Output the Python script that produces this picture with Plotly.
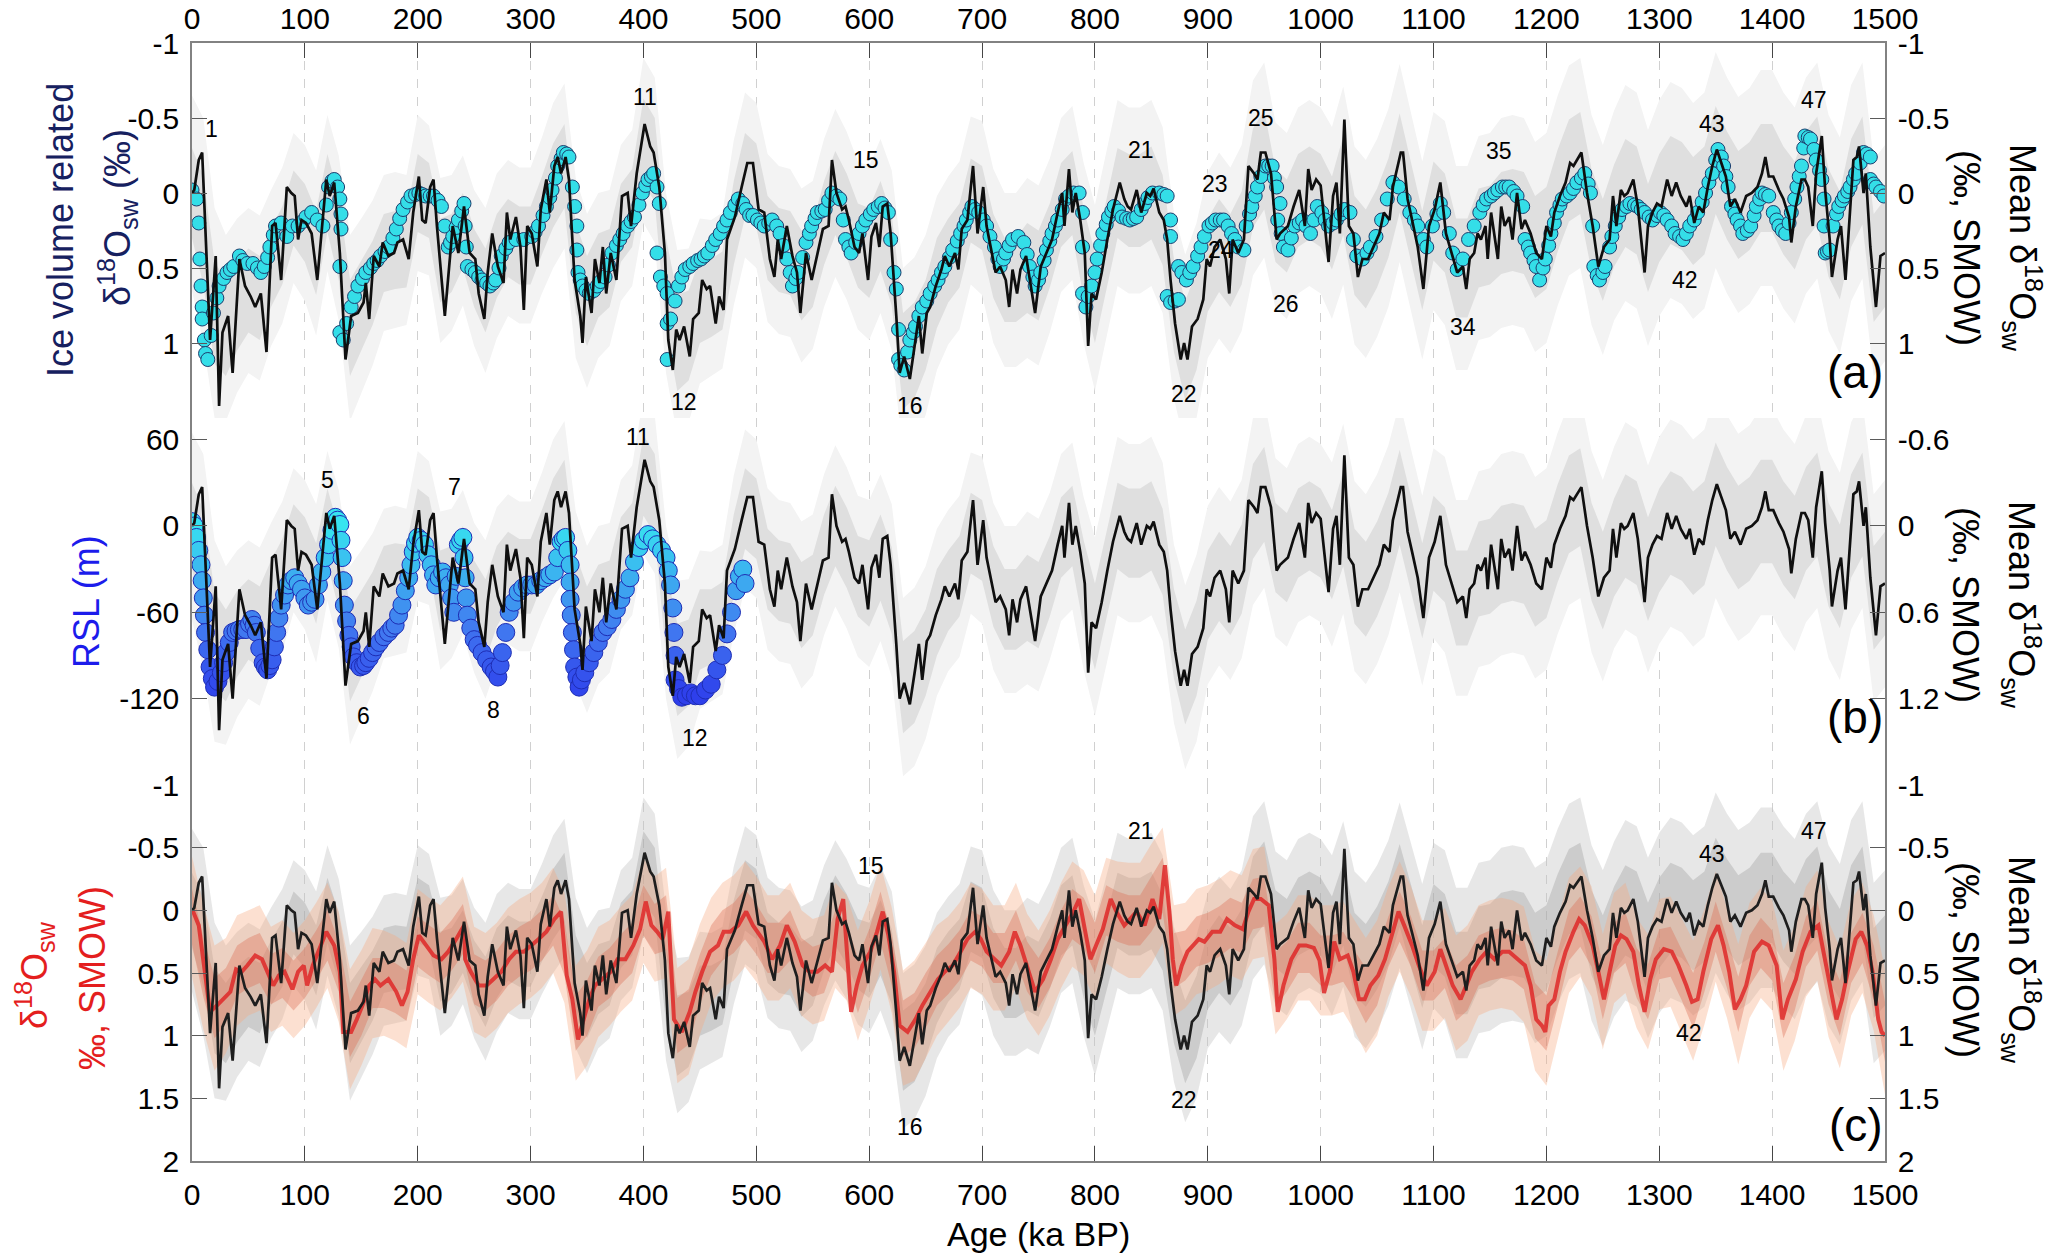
import plotly.graph_objects as go

# ---------------- data ----------------
# Mean d18Osw stack (permil, SMOW): (age ka BP, value)
mean_stack = [
    (0, 0.00), (2, -0.02), (6, -0.22), (9, -0.27), (16, 0.98), (21, 0.42), (24, 1.42), (27, 0.93),
    (32, 0.82), (36, 1.20), (42, 0.44), (47, 0.62), (52, 0.69), (56, 0.76), (61, 0.67), (66, 1.06),
    (71, 0.22), (74, 0.20), (79, 0.58), (84, -0.04), (88, 0.00), (91, 0.02), (94, 0.31), (97, 0.18),
    (101, 0.20), (106, 0.27), (111, 0.58), (116, 0.18), (119, -0.09), (122, 0.02), (126, -0.07),
    (131, 0.40), (136, 1.11), (141, 0.82), (147, 0.80), (152, 0.73), (154, 0.60), (157, 0.84),
    (161, 0.42), (166, 0.49), (169, 0.33), (174, 0.42), (179, 0.40), (182, 0.33), (187, 0.31),
    (192, 0.44), (196, 0.13), (201, -0.11), (204, 0.18), (207, 0.20), (211, -0.04), (214, -0.09),
    (217, 0.22), (224, 0.82), (227, 0.58), (231, 0.22), (236, 0.40), (241, 0.09), (246, 0.40),
    (251, 0.44), (254, 0.67), (259, 0.84), (262, 0.53), (266, 0.27), (271, 0.49), (276, 0.60),
    (279, 0.13), (282, 0.31), (287, 0.16), (291, 0.36), (294, 0.78), (297, 0.22), (301, 0.27),
    (306, 0.49), (309, 0.11), (314, -0.09), (317, 0.13), (321, -0.18), (324, -0.24), (327, -0.13),
    (331, -0.24), (334, -0.09), (339, 0.58), (344, 0.82), (346, 1.00), (349, 0.56), (354, 0.80),
    (357, 0.44), (361, 0.60), (364, 0.36), (367, 0.67), (371, 0.40), (376, 0.58), (381, 0.02),
    (386, 0.00), (389, 0.22), (394, -0.13), (397, -0.27), (401, -0.46), (406, -0.31), (409, -0.27),
    (414, -0.04), (419, 0.40), (422, 0.98), (426, 1.18), (429, 0.91), (432, 0.98), (436, 0.89),
    (441, 1.09), (444, 0.84), (449, 0.80), (452, 0.58), (456, 0.64), (459, 0.62), (464, 0.87),
    (467, 0.69), (471, 0.78), (474, 0.31), (481, 0.16), (487, -0.04), (492, -0.20), (497, -0.20),
    (502, 0.11), (507, 0.13), (512, 0.44), (516, 0.56), (519, 0.31), (522, 0.44), (527, 0.22),
    (532, 0.42), (536, 0.53), (539, 0.80), (544, 0.40), (549, 0.58), (554, 0.40), (559, 0.24),
    (564, 0.22), (567, -0.22), (571, 0.00), (576, 0.11), (579, 0.09), (582, 0.18), (587, 0.36),
    (591, 0.40), (594, 0.27), (599, 0.58), (602, 0.29), (606, 0.20), (609, 0.36), (612, 0.09),
    (616, 0.07), (619, 0.27), (624, 0.82), (627, 1.20), (631, 1.09), (636, 1.24), (641, 0.98),
    (644, 0.82), (647, 1.07), (651, 0.80), (654, 0.76), (659, 0.62), (664, 0.51), (667, 0.42),
    (671, 0.49), (676, 0.40), (679, 0.51), (682, 0.24), (687, 0.18), (692, -0.18), (696, 0.27),
    (701, -0.04), (704, 0.22), (709, 0.40), (712, 0.53), (716, 0.49), (721, 0.58), (724, 0.76),
    (727, 0.51), (731, 0.67), (734, 0.51), (739, 0.42), (742, 0.56), (747, 0.80), (752, 0.49),
    (757, 0.40), (762, 0.31), (767, 0.13), (771, 0.00), (773, 0.22), (777, -0.16), (780, 0.13),
    (783, 0.00), (787, 0.18), (791, 0.40), (794, 1.02), (797, 0.67), (801, 0.71), (806, 0.53),
    (811, 0.31), (816, 0.11), (822, -0.07), (826, 0.04), (829, 0.09), (832, 0.11), (837, -0.02),
    (841, 0.13), (846, 0.00), (849, 0.02), (852, -0.03), (857, 0.13), (861, 0.18), (864, 0.31),
    (867, 0.58), (871, 0.87), (876, 1.11), (879, 1.00), (882, 1.11), (886, 0.89), (891, 0.84),
    (896, 0.71), (899, 0.44), (902, 0.49), (906, 0.36), (911, 0.31), (916, 0.44), (919, 0.67),
    (922, 0.31), (927, 0.40), (932, 0.31), (936, -0.18), (941, -0.13), (944, -0.09), (947, -0.27),
    (951, -0.27), (956, -0.13), (961, 0.31), (964, 0.27), (971, 0.22), (976, 0.09), (981, -0.02),
    (986, 0.22), (989, -0.16), (992, -0.02), (996, -0.09), (1000, -0.05), (1003, 0.18), (1007, 0.46),
    (1011, 0.02), (1014, -0.07), (1017, 0.27), (1021, -0.49), (1025, 0.22), (1029, 0.27), (1033, 0.56),
    (1037, 0.44), (1042, 0.44), (1047, 0.36), (1052, 0.27), (1056, 0.13), (1061, 0.18), (1064, -0.04),
    (1068, -0.16), (1071, -0.27), (1073, -0.27), (1077, 0.04), (1081, 0.18), (1086, 0.36), (1091, 0.64),
    (1096, 0.22), (1101, 0.11), (1106, -0.07), (1111, 0.27), (1116, 0.40), (1121, 0.53), (1126, 0.49),
    (1129, 0.64), (1132, 0.44), (1136, 0.40), (1139, 0.27), (1142, 0.31), (1146, 0.22), (1148, 0.44),
    (1151, 0.13), (1154, 0.27), (1157, 0.44), (1160, 0.09), (1163, 0.22), (1167, 0.16), (1170, 0.31),
    (1174, 0.00), (1178, 0.24), (1181, 0.18), (1186, 0.27), (1191, 0.40), (1196, 0.44), (1200, 0.22),
    (1204, 0.29), (1207, 0.13), (1212, 0.02), (1217, -0.07), (1221, -0.20), (1224, -0.18), (1227, -0.22),
    (1231, -0.27), (1236, 0.00), (1241, 0.22), (1246, 0.49), (1251, 0.36), (1256, 0.31), (1259, 0.02),
    (1262, 0.22), (1266, -0.02), (1269, 0.02), (1272, 0.00), (1277, -0.09), (1281, 0.09), (1284, 0.31),
    (1287, 0.53), (1290, 0.22), (1294, 0.13), (1298, 0.07), (1302, 0.09), (1307, -0.09), (1311, 0.02),
    (1315, -0.07), (1319, 0.02), (1324, 0.09), (1327, 0.02), (1331, 0.20), (1335, 0.09), (1339, 0.13),
    (1343, -0.04), (1347, -0.18), (1351, -0.29), (1355, -0.20), (1359, -0.11), (1363, 0.09), (1367, 0.04),
    (1372, 0.13), (1377, 0.02), (1382, 0.00), (1387, -0.04), (1391, -0.13), (1394, -0.24), (1397, -0.11),
    (1401, -0.11), (1406, -0.02), (1410, 0.04), (1415, 0.16), (1417, 0.33), (1421, 0.09), (1426, -0.09),
    (1429, -0.09), (1432, -0.04), (1436, 0.22), (1439, -0.13), (1444, -0.38), (1447, -0.02), (1451, 0.31),
    (1453, 0.56), (1458, 0.31), (1461, 0.22), (1465, 0.58), (1469, 0.13), (1472, -0.22), (1475, -0.24),
    (1477, -0.31), (1481, 0.00), (1483, -0.13), (1487, 0.36), (1490, 0.58), (1492, 0.76), (1496, 0.42),
    (1500, 0.40),
]

# Ice-volume related d18Osw (circles, panel a)
ice_volume = [
    (0, -0.02), (4, 0.04), (6, 0.20), (7, 0.44), (8, 0.62), (9, 0.76), (9, 0.84), (11, 0.98), (12, 1.07),
    (14, 1.11), (17, 0.95), (19, 0.80), (22, 0.70), (24, 0.62), (28, 0.57), (31, 0.53), (34, 0.51),
    (37, 0.49), (42, 0.42), (45, 0.45), (49, 0.47), (54, 0.47), (58, 0.50), (61, 0.53), (64, 0.49),
    (67, 0.43), (69, 0.36), (72, 0.28), (74, 0.22), (79, 0.20), (84, 0.29), (89, 0.22), (94, 0.22),
    (98, 0.19), (101, 0.16), (106, 0.13), (111, 0.18), (116, 0.22), (119, 0.08), (121, -0.04),
    (124, -0.08), (126, -0.09), (129, -0.04), (131, 0.04), (132, 0.14), (132, 0.24), (131, 0.49),
    (131, 0.93), (134, 0.98), (137, 0.87), (141, 0.76), (144, 0.69), (147, 0.62), (151, 0.57),
    (154, 0.53), (158, 0.50), (161, 0.47), (164, 0.45), (167, 0.42), (171, 0.39), (174, 0.36),
    (178, 0.30), (181, 0.24), (184, 0.17), (187, 0.11), (191, 0.06), (194, 0.02), (198, 0.01),
    (201, 0.00), (204, 0.01), (207, 0.02), (211, 0.02), (214, 0.02), (218, 0.05), (221, 0.09),
    (224, 0.22), (227, 0.36), (229, 0.33), (231, 0.29), (234, 0.23), (236, 0.18), (239, 0.12),
    (241, 0.07), (242, 0.22), (243, 0.36), (244, 0.49), (248, 0.51), (251, 0.53), (254, 0.56),
    (257, 0.58), (261, 0.60), (264, 0.62), (267, 0.60), (269, 0.58), (272, 0.50), (274, 0.42),
    (278, 0.37), (281, 0.33), (287, 0.31), (294, 0.31), (301, 0.29), (304, 0.26), (307, 0.22),
    (311, 0.15), (314, 0.09), (317, 0.03), (319, -0.02), (322, -0.10), (324, -0.18), (327, -0.23),
    (329, -0.27), (332, -0.26), (334, -0.24), (337, -0.04), (339, 0.09), (341, 0.22), (341, 0.38),
    (342, 0.53), (344, 0.58), (346, 0.62), (349, 0.65), (352, 0.67), (356, 0.65), (359, 0.62),
    (362, 0.59), (366, 0.56), (369, 0.48), (372, 0.40), (376, 0.35), (379, 0.31), (382, 0.27),
    (386, 0.22), (389, 0.19), (392, 0.16), (396, 0.08), (399, 0.00), (402, -0.05), (404, -0.09),
    (407, -0.11), (409, -0.13), (412, -0.04), (414, 0.07), (412, 0.40), (415, 0.56), (418, 0.62),
    (421, 0.67), (421, 0.87), (421, 1.11), (424, 0.84), (428, 0.72), (431, 0.62), (434, 0.56),
    (437, 0.51), (441, 0.49), (444, 0.47), (448, 0.45), (451, 0.44), (454, 0.42), (457, 0.40),
    (461, 0.35), (464, 0.31), (468, 0.27), (471, 0.22), (474, 0.18), (477, 0.13), (481, 0.08),
    (484, 0.04), (488, 0.07), (491, 0.11), (494, 0.15), (497, 0.15), (501, 0.18), (504, 0.20),
    (507, 0.22), (511, 0.20), (514, 0.18), (518, 0.22), (521, 0.27), (524, 0.35), (527, 0.44),
    (530, 0.53), (532, 0.62), (535, 0.57), (537, 0.53), (541, 0.43), (544, 0.33), (547, 0.27),
    (549, 0.22), (552, 0.17), (554, 0.13), (558, 0.12), (561, 0.11), (564, 0.05), (567, 0.00),
    (571, 0.02), (574, 0.04), (577, 0.18), (579, 0.31), (582, 0.36), (584, 0.40), (588, 0.33),
    (591, 0.27), (594, 0.22), (597, 0.18), (601, 0.14), (604, 0.11), (608, 0.09), (611, 0.07),
    (614, 0.10), (617, 0.13), (619, 0.31), (622, 0.53), (624, 0.64), (626, 0.91), (626, 1.11),
    (628, 1.15), (631, 1.18), (634, 1.06), (636, 0.98), (639, 0.93), (641, 0.89), (644, 0.82),
    (647, 0.76), (651, 0.72), (654, 0.67), (658, 0.62), (661, 0.58), (664, 0.53), (667, 0.49),
    (671, 0.43), (674, 0.38), (678, 0.32), (681, 0.27), (684, 0.22), (686, 0.18), (689, 0.13),
    (691, 0.09), (694, 0.11), (697, 0.13), (701, 0.18), (704, 0.22), (707, 0.29), (711, 0.36),
    (714, 0.44), (716, 0.49), (719, 0.44), (721, 0.40), (724, 0.35), (727, 0.31), (732, 0.29),
    (737, 0.33), (740, 0.41), (742, 0.49), (745, 0.56), (747, 0.62), (750, 0.58), (752, 0.53),
    (755, 0.45), (757, 0.38), (760, 0.32), (762, 0.27), (765, 0.22), (767, 0.18), (771, 0.11),
    (774, 0.04), (777, 0.02), (781, 0.00), (786, 0.00), (789, 0.13), (789, 0.36), (789, 0.67),
    (792, 0.76), (794, 0.69), (797, 0.62), (800, 0.53), (802, 0.44), (805, 0.35), (807, 0.27),
    (810, 0.21), (812, 0.16), (815, 0.12), (817, 0.09), (821, 0.12), (824, 0.16), (828, 0.17),
    (831, 0.18), (834, 0.17), (837, 0.16), (841, 0.11), (844, 0.07), (847, 0.03), (851, 0.00),
    (857, 0.00), (861, 0.01), (864, 0.02), (867, 0.18), (867, 0.29), (864, 0.69), (867, 0.73),
    (871, 0.72), (874, 0.71), (874, 0.49), (877, 0.53), (881, 0.58), (884, 0.53), (887, 0.49),
    (891, 0.42), (894, 0.36), (897, 0.29), (901, 0.22), (904, 0.20), (907, 0.18), (911, 0.18),
    (914, 0.18), (918, 0.22), (921, 0.27), (924, 0.31), (927, 0.36), (932, 0.38), (934, 0.22),
    (937, 0.14), (939, 0.09), (942, 0.02), (944, -0.04), (947, -0.11), (951, -0.18), (954, -0.18),
    (957, -0.18), (959, -0.10), (961, -0.04), (964, 0.07), (962, 0.18), (965, 0.27), (967, 0.36),
    (971, 0.38), (974, 0.30), (977, 0.22), (981, 0.20), (984, 0.18), (987, 0.22), (991, 0.27),
    (994, 0.18), (997, 0.09), (1001, 0.13), (1004, 0.18), (1007, 0.22), (1011, 0.20), (1014, 0.18),
    (1018, 0.14), (1021, 0.11), (1026, 0.13), (1029, 0.31), (1032, 0.42), (1037, 0.44), (1041, 0.40),
    (1044, 0.36), (1049, 0.29), (1054, 0.18), (1059, 0.04), (1064, -0.07), (1069, -0.04), (1074, 0.04),
    (1079, 0.13), (1083, 0.18), (1086, 0.22), (1091, 0.31), (1094, 0.36), (1099, 0.22), (1103, 0.14),
    (1106, 0.07), (1109, 0.13), (1114, 0.27), (1117, 0.40), (1121, 0.51), (1126, 0.44), (1131, 0.31),
    (1136, 0.22), (1141, 0.13), (1144, 0.08), (1147, 0.04), (1151, 0.02), (1154, 0.00), (1157, -0.02),
    (1161, -0.04), (1164, -0.04), (1167, -0.04), (1171, -0.01), (1174, 0.02), (1179, 0.09), (1181, 0.31),
    (1184, 0.36), (1186, 0.40), (1189, 0.45), (1191, 0.49), (1194, 0.58), (1197, 0.50), (1199, 0.44),
    (1202, 0.35), (1204, 0.27), (1207, 0.20), (1209, 0.13), (1212, 0.08), (1214, 0.04), (1218, 0.02),
    (1221, 0.00), (1224, -0.03), (1227, -0.07), (1231, -0.10), (1234, -0.13), (1237, -0.06), (1239, 0.00),
    (1241, 0.22), (1242, 0.49), (1245, 0.55), (1247, 0.58), (1250, 0.53), (1252, 0.49), (1256, 0.36),
    (1258, 0.29), (1261, 0.22), (1264, 0.16), (1267, 0.11), (1271, 0.09), (1274, 0.07), (1278, 0.08),
    (1281, 0.09), (1284, 0.11), (1287, 0.13), (1291, 0.16), (1294, 0.18), (1298, 0.15), (1301, 0.13),
    (1304, 0.15), (1307, 0.18), (1311, 0.22), (1314, 0.27), (1318, 0.29), (1321, 0.31), (1324, 0.27),
    (1327, 0.22), (1331, 0.18), (1334, 0.13), (1338, 0.06), (1341, 0.00), (1344, -0.07), (1347, -0.13),
    (1350, -0.22), (1352, -0.29), (1355, -0.24), (1357, -0.18), (1359, -0.11), (1361, -0.04), (1364, 0.09),
    (1367, 0.14), (1369, 0.18), (1372, 0.22), (1374, 0.27), (1378, 0.25), (1381, 0.22), (1384, 0.15),
    (1386, 0.09), (1389, 0.04), (1391, 0.00), (1394, 0.01), (1397, 0.02), (1401, 0.13), (1404, 0.18),
    (1406, 0.22), (1409, 0.25), (1412, 0.27), (1415, 0.20), (1417, 0.13), (1420, 0.04), (1422, -0.04),
    (1424, -0.11), (1426, -0.18), (1428, -0.30), (1429, -0.38), (1432, -0.37), (1434, -0.36),
    (1437, -0.29), (1439, -0.22), (1442, -0.15), (1444, -0.09), (1446, 0.04), (1446, 0.22), (1447, 0.40),
    (1449, 0.39), (1451, 0.38), (1454, 0.22), (1457, 0.14), (1459, 0.09), (1462, 0.05), (1464, 0.02),
    (1467, -0.01), (1469, -0.04), (1472, -0.09), (1474, -0.13), (1478, -0.20), (1481, -0.27),
    (1484, -0.26), (1487, -0.24), (1487, -0.09), (1490, -0.06), (1492, -0.04), (1496, -0.01), (1499, 0.02),
]

# Relative sea level (m), panel b circles
rsl = [
    (0, 3), (2, 0), (4, -8), (6, -17), (8, -27), (9, -38), (10, -50), (11, -62), (12, -74), (14, -86),
    (16, -98), (18, -106), (20, -112), (23, -108), (26, -102), (28, -95), (30, -88), (33, -81), (36, -74),
    (39, -73), (42, -72), (45, -72), (48, -72), (51, -68), (53, -65), (55, -69), (57, -74), (60, -85),
    (63, -95), (65, -98), (67, -100), (69, -97), (71, -93), (73, -84), (75, -74), (77, -64), (79, -55),
    (82, -48), (85, -41), (88, -38), (91, -36), (94, -40), (97, -44), (100, -50), (103, -55), (106, -53),
    (109, -51), (112, -41), (115, -32), (118, -22), (121, -13), (124, -3), (127, 6), (129, 4), (131, 1),
    (132, -10), (133, -22), (134, -38), (135, -55), (137, -66), (139, -76), (141, -84), (143, -91),
    (146, -95), (149, -98), (152, -97), (154, -95), (157, -92), (160, -88), (163, -84), (166, -81),
    (170, -77), (174, -74), (177, -71), (180, -69), (183, -62), (186, -55), (189, -45), (192, -36),
    (194, -27), (196, -18), (198, -12), (200, -8), (203, -10), (206, -13), (209, -20), (212, -27),
    (214, -34), (216, -41), (219, -36), (222, -32), (225, -36), (228, -41), (230, -50), (232, -60),
    (234, -35), (236, -13), (238, -10), (240, -8), (241, -22), (242, -36), (243, -50), (244, -62),
    (247, -71), (250, -79), (253, -83), (257, -88), (261, -93), (265, -98), (268, -101), (271, -105),
    (273, -97), (275, -88), (278, -74), (281, -60), (285, -53), (289, -46), (293, -43), (297, -41),
    (301, -41), (305, -41), (309, -38), (313, -36), (317, -34), (321, -32), (324, -22), (327, -11),
    (329, -9), (331, -8), (333, -17), (335, -27), (335, -39), (335, -51), (336, -62), (337, -74),
    (338, -86), (339, -98), (341, -105), (343, -112), (345, -107), (348, -102), (352, -95), (356, -88),
    (360, -81), (364, -74), (368, -70), (372, -65), (376, -58), (380, -51), (384, -44), (388, -36),
    (392, -25), (396, -15), (400, -10), (404, -6), (408, -9), (412, -13), (416, -17), (420, -22),
    (422, -31), (424, -41), (426, -57), (427, -74), (428, -90), (428, -107), (431, -113), (434, -119),
    (438, -118), (442, -116), (446, -118), (450, -118), (455, -114), (460, -110), (465, -100),
    (470, -90), (474, -75), (478, -60), (482, -45), (485, -35), (488, -30), (490, -40),
]

# Red d18Osw reconstruction (panel c)
red_recon = [
    (0, 0.00), (1, 0.01), (6, 0.12), (11, 0.49), (16, 0.81), (22, 0.76), (27, 0.71), (34, 0.65),
    (39, 0.47), (44, 0.49), (49, 0.44), (56, 0.36), (62, 0.39), (67, 0.49), (72, 0.60), (77, 0.52),
    (82, 0.49), (89, 0.63), (94, 0.49), (99, 0.44), (102, 0.60), (107, 0.44), (114, 0.28), (119, 0.17),
    (126, 0.28), (131, 0.49), (134, 0.97), (141, 0.97), (146, 0.87), (151, 0.76), (157, 0.60),
    (162, 0.55), (167, 0.60), (174, 0.55), (181, 0.65), (186, 0.76), (191, 0.65), (196, 0.39),
    (201, 0.20), (207, 0.28), (214, 0.36), (221, 0.39), (227, 0.33), (234, 0.23), (241, 0.12),
    (242, 0.39), (247, 0.49), (254, 0.60), (261, 0.60), (267, 0.55), (274, 0.49), (281, 0.39),
    (287, 0.33), (294, 0.33), (301, 0.28), (307, 0.23), (314, 0.17), (321, 0.07), (327, 0.01),
    (332, 0.52), (337, 0.71), (342, 1.03), (347, 0.87), (352, 0.71), (357, 0.60), (364, 0.55),
    (371, 0.49), (377, 0.39), (384, 0.39), (391, 0.28), (397, 0.15), (402, -0.07), (407, 0.12),
    (412, 0.17), (417, 0.23), (422, 0.01), (426, 0.60), (427, 0.87), (434, 0.97), (441, 0.81),
    (446, 0.65), (452, 0.49), (459, 0.33), (466, 0.28), (471, 0.17), (477, 0.17), (484, 0.12),
    (491, 0.01), (497, 0.12), (501, 0.17), (507, 0.25), (514, 0.39), (521, 0.28), (527, 0.12),
    (534, 0.25), (541, 0.44), (547, 0.49), (554, 0.49), (561, 0.44), (567, 0.49), (572, 0.07),
    (577, -0.09), (581, 0.49), (584, 0.81), (589, 0.60), (594, 0.44), (601, 0.33), (607, 0.17),
    (612, 0.01), (617, 0.20), (622, 0.49), (627, 0.92), (634, 0.97), (641, 0.87), (647, 0.76),
    (654, 0.65), (661, 0.55), (667, 0.49), (674, 0.44), (681, 0.33), (687, 0.23), (694, 0.17),
    (699, 0.23), (704, 0.33), (711, 0.39), (717, 0.44), (724, 0.33), (729, 0.17), (734, 0.28),
    (741, 0.49), (747, 0.65), (754, 0.55), (761, 0.39), (767, 0.23), (774, 0.12), (781, 0.01),
    (786, -0.09), (791, 0.17), (796, 0.39), (801, 0.28), (807, 0.15), (814, -0.09), (819, 0.01),
    (826, 0.12), (831, 0.07), (837, 0.01), (844, 0.12), (851, -0.09), (857, 0.07), (862, -0.36),
    (866, 0.01), (869, 0.39), (872, 0.60), (877, 0.44), (882, 0.33), (887, 0.28), (892, 0.23),
    (897, 0.25), (904, 0.17), (911, 0.17), (917, 0.07), (924, 0.12), (931, 0.15), (936, 0.01),
    (941, -0.09), (947, -0.09), (954, -0.04), (959, 0.39), (962, 0.81), (967, 0.60), (974, 0.39),
    (981, 0.28), (987, 0.28), (994, 0.30), (999, 0.40), (1003, 0.66), (1008, 0.49), (1012, 0.25),
    (1017, 0.39), (1024, 0.36), (1029, 0.49), (1034, 0.71), (1039, 0.71), (1044, 0.60), (1051, 0.52),
    (1057, 0.39), (1064, 0.17), (1069, 0.01), (1074, 0.12), (1081, 0.28), (1087, 0.44), (1094, 0.60),
    (1101, 0.49), (1106, 0.31), (1111, 0.44), (1117, 0.60), (1124, 0.71), (1129, 0.60), (1134, 0.49),
    (1141, 0.39), (1147, 0.33), (1154, 0.39), (1161, 0.33), (1167, 0.33), (1174, 0.39), (1181, 0.44),
    (1186, 0.60), (1191, 0.87), (1196, 0.92), (1199, 0.97), (1202, 0.76), (1207, 0.71), (1212, 0.49),
    (1217, 0.33), (1224, 0.17), (1229, 0.07), (1234, 0.12), (1241, 0.28), (1246, 0.49), (1251, 0.71),
    (1256, 0.49), (1261, 0.28), (1266, 0.20), (1271, 0.23), (1277, 0.33), (1282, 0.60), (1287, 0.81),
    (1292, 0.55), (1297, 0.39), (1304, 0.31), (1311, 0.33), (1317, 0.44), (1324, 0.60), (1329, 0.73),
    (1334, 0.71), (1339, 0.49), (1346, 0.23), (1352, 0.12), (1357, 0.28), (1362, 0.49), (1367, 0.79),
    (1372, 0.71), (1377, 0.60), (1384, 0.33), (1391, 0.25), (1397, 0.28), (1404, 0.44), (1409, 0.87),
    (1414, 0.71), (1421, 0.55), (1427, 0.33), (1434, 0.17), (1441, 0.12), (1447, 0.39), (1452, 0.65),
    (1457, 0.87), (1462, 0.71), (1467, 0.49), (1474, 0.23), (1479, 0.17), (1484, 0.28), (1489, 0.49),
    (1494, 0.87), (1497, 0.97), (1500, 1.00),
]

# Uncertainty envelopes on a 10-ka grid
band_age = list(range(0, 1501, 10))
band_mid = [
    0.00, 0.25, 0.80, 0.90, 0.75, 0.65, 0.70, 0.50, 0.35, 0.10, 0.20,
    0.40, 0.00, 0.30, 0.90, 0.75, 0.60, 0.40, 0.38, 0.38, 0.00,
    0.05, 0.45, 0.40, 0.25, 0.50, 0.65, 0.42, 0.30, 0.35, 0.35,
    0.15, -0.05, -0.18, 0.50, 0.72, 0.55, 0.50, 0.20, 0.10, -0.35,
    -0.22, 0.60, 1.00, 0.95, 0.72, 0.70, 0.65, 0.20, -0.12, -0.05,
    0.30, 0.38, 0.40, 0.55, 0.48, 0.20, 0.00, 0.15, 0.35, 0.40,
    0.22, 0.45, 1.12, 1.05, 0.88, 0.60, 0.45, 0.35, 0.05, 0.10,
    0.42, 0.58, 0.58, 0.50, 0.55, 0.35, 0.08, 0.00, 0.40, 0.70,
    0.35, 0.00, 0.05, 0.05, 0.00, 0.18, 0.75, 1.05, 0.85, 0.48,
    0.35, 0.45, 0.30, -0.10, -0.22, 0.15, 0.22, 0.05, 0.00, 0.05,
    0.20, -0.05, 0.35, 0.44, 0.30, 0.10, -0.20, 0.12, 0.45, 0.12,
    0.20, 0.50, 0.50, 0.30, 0.28, 0.20, 0.18, 0.20, 0.36, 0.30,
    0.05, -0.15, -0.20, 0.18, 0.38, 0.15, 0.00, 0.05, 0.30, 0.10,
    -0.02, 0.02, 0.12, 0.05, -0.22, -0.05, 0.08, 0.02, -0.10, -0.10,
    0.05, 0.15, -0.05, -0.15, 0.20, 0.35, 0.00, -0.15, 0.50, 0.40,
]
band_inner = [
    0.30, 0.36, 0.34, 0.32, 0.30, 0.28, 0.28, 0.26, 0.26, 0.25, 0.26,
    0.28, 0.26, 0.28, 0.32, 0.30, 0.28, 0.26, 0.26, 0.25, 0.26,
    0.25, 0.28, 0.26, 0.25, 0.26, 0.28, 0.28, 0.26, 0.26, 0.26,
    0.26, 0.28, 0.28, 0.30, 0.30, 0.28, 0.26, 0.26, 0.26, 0.28,
    0.28, 0.30, 0.32, 0.30, 0.28, 0.26, 0.26, 0.28, 0.28, 0.28,
    0.28, 0.28, 0.28, 0.30, 0.28, 0.28, 0.28, 0.28, 0.28, 0.30,
    0.30, 0.30, 0.32, 0.32, 0.30, 0.30, 0.28, 0.28, 0.28, 0.28,
    0.28, 0.28, 0.28, 0.30, 0.30, 0.28, 0.28, 0.28, 0.30, 0.30,
    0.30, 0.30, 0.31, 0.31, 0.31, 0.30, 0.31, 0.33, 0.33, 0.31,
    0.31, 0.31, 0.31, 0.33, 0.33, 0.31, 0.31, 0.31, 0.31, 0.31,
    0.31, 0.33, 0.33, 0.33, 0.33, 0.33, 0.33, 0.33, 0.33, 0.33,
    0.33, 0.33, 0.33, 0.33, 0.33, 0.34, 0.34, 0.34, 0.34, 0.34,
    0.34, 0.34, 0.34, 0.34, 0.34, 0.34, 0.36, 0.36, 0.36, 0.36,
    0.36, 0.36, 0.36, 0.36, 0.36, 0.36, 0.36, 0.36, 0.36, 0.36,
    0.36, 0.36, 0.36, 0.36, 0.36, 0.36, 0.36, 0.36, 0.36, 0.36,
]
band_outer = [
    0.65, 0.75, 0.70, 0.62, 0.58, 0.55, 0.55, 0.52, 0.52, 0.50, 0.52,
    0.55, 0.52, 0.55, 0.62, 0.58, 0.55, 0.52, 0.52, 0.50, 0.52,
    0.50, 0.55, 0.52, 0.50, 0.52, 0.55, 0.55, 0.52, 0.52, 0.52,
    0.52, 0.55, 0.55, 0.60, 0.58, 0.55, 0.52, 0.52, 0.52, 0.55,
    0.55, 0.60, 0.62, 0.58, 0.55, 0.52, 0.52, 0.55, 0.55, 0.55,
    0.56, 0.56, 0.56, 0.58, 0.56, 0.56, 0.56, 0.56, 0.56, 0.58,
    0.58, 0.60, 0.62, 0.62, 0.60, 0.58, 0.56, 0.56, 0.56, 0.58,
    0.58, 0.58, 0.58, 0.60, 0.60, 0.58, 0.58, 0.58, 0.60, 0.62,
    0.62, 0.62, 0.62, 0.62, 0.62, 0.62, 0.62, 0.64, 0.65, 0.62,
    0.62, 0.62, 0.62, 0.65, 0.65, 0.62, 0.62, 0.62, 0.62, 0.62,
    0.64, 0.66, 0.66, 0.66, 0.66, 0.66, 0.66, 0.66, 0.66, 0.66,
    0.68, 0.68, 0.68, 0.68, 0.68, 0.70, 0.70, 0.70, 0.70, 0.70,
    0.70, 0.70, 0.70, 0.70, 0.70, 0.70, 0.72, 0.72, 0.72, 0.72,
    0.72, 0.72, 0.72, 0.72, 0.72, 0.72, 0.72, 0.72, 0.72, 0.72,
    0.72, 0.72, 0.72, 0.72, 0.72, 0.72, 0.72, 0.72, 0.72, 0.72,
]
red_band_mid = [
    0.05, 0.45, 0.78, 0.68, 0.48, 0.42, 0.38, 0.55, 0.50, 0.60, 0.50,
    0.36, 0.20, 0.45, 0.95, 0.78, 0.58, 0.58, 0.62, 0.68, 0.25,
    0.32, 0.38, 0.28, 0.15, 0.55, 0.60, 0.52, 0.40, 0.33, 0.28,
    0.20, 0.08, 0.30, 0.90, 0.78, 0.57, 0.50, 0.39, 0.30, 0.00,
    0.15, 0.10, 0.92, 0.85, 0.55, 0.32, 0.20, 0.14, 0.03, 0.15,
    0.30, 0.30, 0.20, 0.42, 0.49, 0.46, 0.20, 0.30, 0.60, 0.35,
    0.05, 0.40, 0.94, 0.88, 0.72, 0.56, 0.47, 0.36, 0.20, 0.25,
    0.38, 0.38, 0.20, 0.45, 0.58, 0.42, 0.20, 0.03, 0.10, 0.30,
    0.00, 0.05, 0.08, 0.08, -0.05, -0.20, 0.40, 0.36, 0.25, 0.22,
    0.17, 0.10, 0.14, -0.05, -0.07, 0.55, 0.45, 0.30, 0.30, 0.40,
    0.40, 0.37, 0.52, 0.68, 0.54, 0.25, 0.05, 0.25, 0.52, 0.52,
    0.42, 0.66, 0.58, 0.40, 0.36, 0.34, 0.36, 0.43, 0.80, 0.90,
    0.55, 0.20, 0.09, 0.25, 0.65, 0.30, 0.22, 0.50, 0.65, 0.35,
    0.33, 0.52, 0.72, 0.45, 0.13, 0.42, 0.75, 0.40, 0.26, 0.36,
    0.80, 0.58, 0.25, 0.12, 0.55, 0.78, 0.38, 0.22, 0.50, 0.97,
]
red_inner = [
    0.22, 0.24, 0.24, 0.22, 0.20, 0.20, 0.20, 0.20, 0.20, 0.20, 0.20,
    0.20, 0.20, 0.20, 0.22, 0.22, 0.20, 0.20, 0.20, 0.20, 0.20,
    0.20, 0.20, 0.20, 0.20, 0.20, 0.20, 0.20, 0.20, 0.20, 0.20,
    0.20, 0.20, 0.22, 0.22, 0.22, 0.20, 0.20, 0.20, 0.20, 0.20,
    0.20, 0.22, 0.22, 0.22, 0.20, 0.20, 0.20, 0.20, 0.20, 0.20,
    0.20, 0.20, 0.20, 0.20, 0.20, 0.20, 0.20, 0.20, 0.22, 0.20,
    0.20, 0.20, 0.22, 0.22, 0.22, 0.20, 0.20, 0.20, 0.20, 0.20,
    0.20, 0.20, 0.20, 0.20, 0.20, 0.20, 0.20, 0.20, 0.20, 0.20,
    0.20, 0.20, 0.20, 0.20, 0.22, 0.22, 0.22, 0.20, 0.20, 0.20,
    0.20, 0.20, 0.20, 0.20, 0.20, 0.22, 0.20, 0.20, 0.20, 0.20,
    0.20, 0.20, 0.20, 0.22, 0.22, 0.20, 0.20, 0.20, 0.20, 0.20,
    0.20, 0.22, 0.22, 0.20, 0.20, 0.20, 0.20, 0.20, 0.22, 0.22,
    0.22, 0.20, 0.20, 0.20, 0.22, 0.20, 0.20, 0.20, 0.22, 0.20,
    0.20, 0.20, 0.22, 0.20, 0.20, 0.20, 0.22, 0.20, 0.20, 0.20,
    0.22, 0.22, 0.20, 0.20, 0.20, 0.22, 0.20, 0.20, 0.22, 0.24,
]
red_outer = [
    0.48, 0.50, 0.50, 0.46, 0.44, 0.42, 0.42, 0.42, 0.42, 0.42, 0.42,
    0.42, 0.42, 0.44, 0.48, 0.46, 0.44, 0.42, 0.42, 0.42, 0.42,
    0.42, 0.42, 0.42, 0.42, 0.42, 0.42, 0.42, 0.42, 0.42, 0.42,
    0.42, 0.42, 0.44, 0.46, 0.46, 0.44, 0.42, 0.42, 0.42, 0.42,
    0.42, 0.44, 0.46, 0.46, 0.44, 0.42, 0.42, 0.42, 0.42, 0.42,
    0.42, 0.42, 0.42, 0.42, 0.42, 0.42, 0.42, 0.42, 0.44, 0.42,
    0.42, 0.42, 0.46, 0.48, 0.46, 0.44, 0.42, 0.42, 0.42, 0.42,
    0.42, 0.42, 0.42, 0.42, 0.42, 0.42, 0.42, 0.42, 0.42, 0.42,
    0.42, 0.44, 0.46, 0.46, 0.48, 0.46, 0.44, 0.42, 0.42, 0.42,
    0.42, 0.42, 0.42, 0.44, 0.44, 0.44, 0.42, 0.42, 0.42, 0.44,
    0.44, 0.44, 0.44, 0.46, 0.46, 0.44, 0.44, 0.44, 0.44, 0.44,
    0.44, 0.46, 0.46, 0.44, 0.44, 0.44, 0.44, 0.46, 0.48, 0.50,
    0.48, 0.46, 0.44, 0.44, 0.46, 0.44, 0.44, 0.44, 0.46, 0.44,
    0.44, 0.46, 0.48, 0.46, 0.44, 0.44, 0.48, 0.46, 0.44, 0.44,
    0.48, 0.46, 0.44, 0.44, 0.46, 0.48, 0.46, 0.44, 0.46, 0.50,
]

x_ticks = [0, 100, 200, 300, 400, 500, 600, 700, 800, 900, 1000, 1100, 1200, 1300, 1400, 1500]
a_ticks = [-1, -0.5, 0, 0.5, 1]
a_minor_ticks = [1.5]
b_rsl_ticks = [60, 0, -60, -120]
b_d18o_ticks = [-0.6, 0, 0.6, 1.2]
c_ticks = [-1, -0.5, 0, 0.5, 1, 1.5, 2]

# MIS labels: (text, age, value in that panel's units)
labels_a = [("1", 17, -0.43), ("2", 32, 1.56), ("11", 401, -0.64), ("12", 436, 1.39),
            ("15", 597, -0.22), ("16", 636, 1.42), ("21", 841, -0.29), ("22", 879, 1.34),
            ("23", 906, -0.06), ("24", 912, 0.38), ("25", 947, -0.50), ("26", 969, 0.74),
            ("34", 1126, 0.89), ("35", 1158, -0.28), ("42", 1323, 0.58), ("43", 1347, -0.46),
            ("47", 1437, -0.62)]
labels_b = [("5", 120, 32), ("6", 152, -132), ("7", 233, 27), ("8", 267, -128),
            ("11", 395, 62), ("12", 446, -147)]
labels_c = [("15", 602, -0.35), ("16", 636, 1.73), ("21", 841, -0.63), ("22", 879, 1.51),
            ("42", 1326, 0.98), ("43", 1347, -0.45), ("47", 1437, -0.63)]

# ---------------- figure ----------------
W, H = 2067, 1260
FONT = "Liberation Sans, Arial, Helvetica, sans-serif"
XD = [192 / W, 1885 / W]
YA = [1 - 418 / H, 1 - 43 / H]
YB = [1 - 785 / H, 1 - 418 / H]
YC = [1 - 1161 / H, 1 - 785 / H]

mean_age = [a for a, _ in mean_stack]
mean_val = [v for _, v in mean_stack]
ice_age = [a for a, _ in ice_volume]
ice_val = [v for _, v in ice_volume]
rsl_age = [a for a, _ in rsl]
rsl_val = [v for _, v in rsl]
red_age = [a for a, _ in red_recon]
red_val = [v for _, v in red_recon]

fig = go.Figure()


def add_band(mid, half, color, xa, ya):
    lower = [m + h for m, h in zip(mid, half)]
    upper = [m - h for m, h in zip(mid, half)]
    fig.add_trace(go.Scatter(
        x=band_age + band_age[::-1], y=upper + lower[::-1], fill="toself", fillcolor=color,
        mode="lines", line=dict(width=0), hoverinfo="skip", showlegend=False, xaxis=xa, yaxis=ya))


def add_mean(xa, ya, color="rgb(15,15,15)"):
    fig.add_trace(go.Scatter(
        x=mean_age, y=mean_val, mode="lines", line=dict(color=color, width=2.7),
        hoverinfo="skip", showlegend=False, xaxis=xa, yaxis=ya))


# panel (a)
add_band(band_mid, band_outer, "rgb(243,243,243)", "x", "y")
add_band(band_mid, band_inner, "rgb(223,223,223)", "x", "y")
fig.add_trace(go.Scatter(
    x=ice_age, y=ice_val, mode="markers",
    marker=dict(size=14, color="rgb(52,222,232)", line=dict(color="rgb(28,62,110)", width=1)),
    hoverinfo="skip", showlegend=False, xaxis="x", yaxis="y"))
add_mean("x", "y2")

# panel (b)
add_band(band_mid, band_outer, "rgb(243,243,243)", "x2", "y3")
add_band(band_mid, band_inner, "rgb(223,223,223)", "x2", "y3")
fig.add_trace(go.Scatter(
    x=rsl_age, y=rsl_val, mode="markers",
    marker=dict(size=18, color=rsl_val, cmin=-120, cmax=0,
                colorscale=[[0, "rgb(45,60,235)"], [0.4, "rgb(65,120,240)"], [1, "rgb(55,228,240)"]],
                line=dict(color="rgb(30,45,180)", width=1)),
    hoverinfo="skip", showlegend=False, xaxis="x2", yaxis="y4"))
add_mean("x2", "y5")

# panel (c)
add_band(band_mid, band_outer, "rgba(195,195,195,0.40)", "x3", "y6")
add_band(band_mid, band_inner, "rgba(150,150,150,0.33)", "x3", "y6")
add_band(red_band_mid, red_outer, "rgba(246,168,128,0.36)", "x3", "y6")
add_band(red_band_mid, red_inner, "rgba(220,105,80,0.36)", "x3", "y6")
fig.add_trace(go.Scatter(
    x=red_age, y=red_val, mode="lines", line=dict(color="rgba(222,40,40,0.85)", width=4),
    hoverinfo="skip", showlegend=False, xaxis="x3", yaxis="y6"))
add_mean("x3", "y7", color="rgb(30,30,30)")

LINE = "rgb(130,130,130)"
TICKF = dict(family=FONT, size=30, color="black")
xcommon = dict(domain=XD, range=[0, 1500], tickvals=x_ticks, showgrid=True, automargin=False,
               gridcolor="rgb(208,208,208)", griddash="dash", gridwidth=1.2, zeroline=False,
               tickfont=TICKF)
ycommon = dict(showgrid=False, zeroline=False, ticks="inside", ticklen=15, tickcolor="rgb(90,90,90)",
               showline=True, linecolor=LINE, linewidth=1.5, tickfont=TICKF, ticklabelstandoff=5,
               automargin=False)
minor_a = dict(tickvals=a_minor_ticks, ticks="inside", ticklen=15, tickcolor="rgb(90,90,90)", showgrid=False)

fig.update_layout(
    width=W, height=H, autosize=False, margin=dict(l=0, r=0, t=0, b=0, autoexpand=False),
    paper_bgcolor="white", plot_bgcolor="rgba(0,0,0,0)", font=dict(family=FONT, color="black"),
    showlegend=False,
    xaxis=dict(xcommon, anchor="y", side="top", ticks="inside", ticklen=15, tickcolor="rgb(70,70,70)",
               showline=True, linecolor=LINE, linewidth=1.5, ticklabelstandoff=0),
    xaxis2=dict(xcommon, anchor="y3", showticklabels=False, ticks="", showline=False),
    xaxis3=dict(xcommon, anchor="y6", side="bottom", ticks="inside", ticklen=15,
                tickcolor="rgb(70,70,70)", showline=True, linecolor=LINE, linewidth=1.5,
                ticklabelstandoff=6),
    yaxis=dict(ycommon, domain=YA, anchor="x", range=[1.5, -1], side="left",
               tickvals=a_ticks, ticktext=["-1", "-0.5", "0", "0.5", "1"], minor=minor_a),
    yaxis2=dict(ycommon, overlaying="y", anchor="x", range=[1.5, -1], side="right",
                tickvals=a_ticks, ticktext=["-1", "-0.5", "0", "0.5", "1"], minor=minor_a),
    yaxis3=dict(ycommon, domain=YB, anchor="x2", range=[1.8, -0.75], side="right",
                tickvals=b_d18o_ticks, ticktext=["-0.6", "0", "0.6", "1.2"]),
    yaxis4=dict(ycommon, overlaying="y3", anchor="x2", range=[-180, 75], side="left",
                tickvals=b_rsl_ticks, ticktext=["60", "0", "-60", "-120"]),
    yaxis5=dict(overlaying="y3", anchor="x2", range=[1.8, -0.75], visible=False, automargin=False),
    yaxis6=dict(ycommon, domain=YC, anchor="x3", range=[2, -1], side="left",
                tickvals=c_ticks, ticktext=["-1", "-0.5", "0", "0.5", "1", "1.5", "2"]),
    yaxis7=dict(ycommon, overlaying="y6", anchor="x3", range=[2, -1], side="right",
                tickvals=c_ticks, ticktext=["-1", "-0.5", "0", "0.5", "1", "1.5", "2"]),
)

ann = []
for xa, ya, lab in [("x", "y", labels_a), ("x2", "y4", labels_b), ("x3", "y6", labels_c)]:
    for t, age, val in lab:
        ann.append(dict(text=t, x=age, y=val, xref=xa, yref=ya, showarrow=False,
                        font=dict(family=FONT, size=23, color="black")))

for t, xa, ya, yv in [("(a)", "x", "y", 1.19), ("(b)", "x2", "y4", -133), ("(c)", "x3", "y6", 1.71)]:
    ann.append(dict(text=t, x=1500, y=yv, xref=xa, yref=ya, xanchor="right", showarrow=False,
                    font=dict(family=FONT, size=46, color="black")))


def paper_text(text, px, py, angle, color, size=36):
    ann.append(dict(text=text, x=px / W, y=1 - py / H, xref="paper", yref="paper", showarrow=False,
                    textangle=angle, xanchor="center", yanchor="middle",
                    font=dict(family=FONT, size=size, color=color)))


NAVY = "rgb(22,32,95)"
BLUE = "rgb(28,28,235)"
RED = "rgb(228,30,30)"
D18 = "δ<sup>18</sup>O<sub>sw</sub>"
paper_text("Ice volume related", 60, 230, -90, NAVY)
paper_text(D18 + " (‰)", 117, 218, -90, NAVY)
paper_text("RSL (m)", 86, 602, -90, BLUE)
paper_text(D18, 34, 975, -90, RED)
paper_text("‰, SMOW)", 92, 978, -90, RED)
for yc in (248, 605, 960):
    paper_text("Mean " + D18, 2022, yc, 90, "black")
    paper_text("(‰, SMOW)", 1966, yc, 90, "black")
paper_text("Age (ka BP)", 1038, 1234, 0, "black", size=34)

fig.update_layout(annotations=ann)

fig.write_html("out.html", config={"displayModeBar": False},
               post_script="document.body.style.margin='0px';")
